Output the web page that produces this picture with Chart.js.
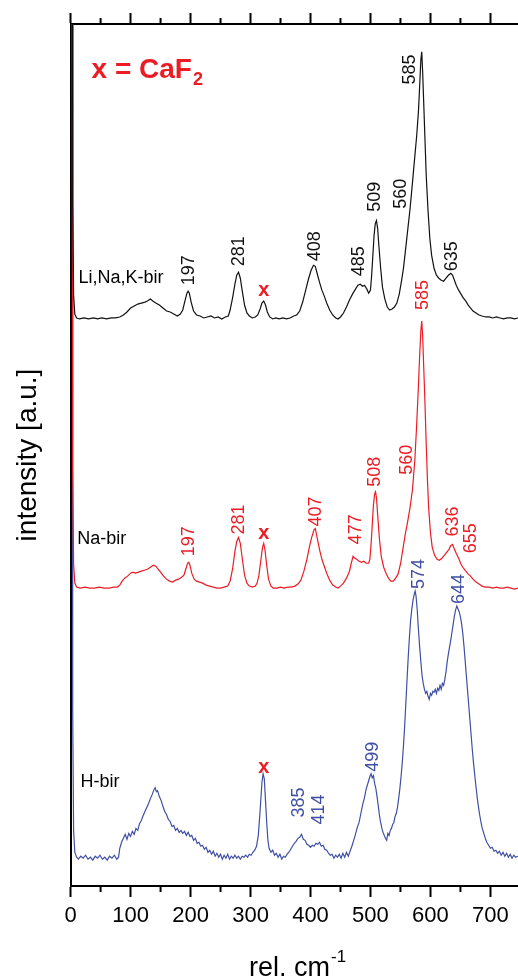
<!DOCTYPE html>
<html>
<head>
<meta charset="utf-8">
<script src="https://cdn.jsdelivr.net/npm/chart.js@4"></script>
<style>
  body { margin: 0; background: #fff; overflow: hidden; }
  canvas { display: block; }
</style>
</head>
<body>
<canvas id="myChart" width="518" height="980"></canvas>
<script>
// Raman shift, cm-1, and intensity above each trace's own baseline
var liNaKX = [2.5,3.5,5,7,10,15,22,30,38,45,52,60,68,75,82,88,94,100,106,112,118,124,128,133,137,142,148,154,160,166,172,178,183,187,191,194,196,198,201,205,210,216,222,228,234,240,246,252,258,263,266,270,274,277,280,283,286,290,294,298,303,308,312,316,319,322,325,328,332,337,342,348,354,360,366,372,377,382,387,392,397,401,405,408,411,415,419,423,427,432,437,442,446,450,455,460,465,470,475,479,483,487,490,494,497,500,502,504,506,508,510,512,514,517,520,524,528,532,536,540,544,548,552,555,558,562,566,570,574,577,580,582,584,585.5,587,589,591,593,596,599,602,606,610,614,618,622,626,630,634,637,640,643,647,651,655,659,663,667,671,676,681,686,692,698,704,710,716,722,728,734,740,746];
var liNaKY = [900,120,25,6,2,1,2,1,2,1,2,1,2,2,3,5,8,12,14,16,17,18,19,21,19,17,15,12,9,8,6,4,6,10,20,27,29,27,18,9,5,4,2,3,4,2,3,1,3,4,10,22,36,45,48,42,30,15,7,4,2,3,5,11,17,19,15,8,3,1,2,1,2,1,2,4,5,9,18,30,42,50,55,54,47,38,30,24,17,10,5,2,1,3,7,13,20,26,31,35,36,34,35,31,27,30,45,65,85,97,100,92,75,52,33,21,13,10,11,13,17,26,40,52,68,90,112,138,165,185,210,235,262,270,250,215,180,145,110,82,65,52,45,42,40,39,42,45,47,45,40,35,30,26,22,19,15,12,9,7,5,4,3,3,2,3,2,1,2,2,1,2];

var naX = [2.5,3.5,5,7,10,16,24,32,40,48,56,64,72,78,82,86,90,95,100,104,108,113,118,123,128,133,138,142,146,150,155,160,165,170,175,180,185,189,192,195,197,199,202,206,210,215,220,226,232,238,244,250,256,262,266,270,274,277,280,283,286,290,294,298,303,308,311,314,317,320,322,324,327,330,334,338,344,350,356,362,368,374,379,384,389,394,398,402,406,408,411,415,419,423,427,432,437,442,446,450,455,460,465,468,471,474,477,481,485,489,493,497,499,501,503,505,507,508.5,510,512,515,518,522,526,530,534,538,542,546,550,554,558,562,566,570,574,577,580,582,584,585.5,587,589,591,593,595,597,600,603,607,611,615,619,623,627,631,634,637,640,643,647,651,655,659,663,667,671,676,681,686,692,698,704,710,716,722,728,734,740,746];
var naY = [900,120,25,6,2,1,2,1,1,2,1,1,2,2,4,8,11,13,16,17,16,17,18,19,20,22,24,23,20,17,13,10,8,7,9,10,12,14,20,26,27,24,16,10,8,7,6,4,3,2,1,1,2,3,8,20,38,48,52,46,32,14,6,3,2,3,6,14,28,42,46,40,24,10,3,1,1,2,1,2,2,3,5,9,18,30,42,52,60,61,52,40,30,23,16,9,4,2,1,3,6,11,18,26,33,31,30,28,27,28,26,26,30,45,65,85,96,98,92,75,50,33,22,16,11,8,8,11,15,25,40,55,68,82,100,130,165,205,235,260,270,255,220,185,145,110,82,57,42,34,30,29,31,34,37,40,44,45,40,36,31,25,21,18,15,13,10,7,5,3,2,2,1,2,1,1,2,1,0,1];

var hX = [2.5,3.5,5,7,10,13,17,21,25,29,33,37,41,45,49,53,57,61,65,69,73,77,80,82,85,88,91,94,97,100,103,106,109,112,115,118,121,124,127,130,133,136,139,141,143,145,148,151,154,157,160,163,166,169,172,175,178,181,184,187,190,193,196,199,202,205,208,211,214,217,220,223,226,229,232,235,238,241,244,247,250,253,256,259,262,265,268,271,274,277,280,283,286,289,292,295,298,301,304,307,310,313,316,319,321,323,325,327,329,331,334,337,340,343,346,349,352,355,358,361,364,367,370,373,376,379,382,385,388,391,394,397,400,403,406,409,412,415,418,421,424,427,430,433,436,439,442,445,448,451,454,457,460,463,466,469,472,475,478,481,484,487,490,493,496,499,501,503,505,507,509,511,513,515,517,519,521,523,525,527,529,531,533,535,537,539,541,543,545,547,549,551,553,555,557,559,561,563,565,567,569,571,573,574.5,576,578,580,582,584,586,588,590,592,594,596,598,600,602,604,606,608,610,612,614,616,618,620,622,624,626,628,630,632,634,636,638,640,642,644,646,648,650,652,654,656,658,660,662,664,666,668,670,672,674,676,678,680,682,684,686,688,690,692,694,697,700,703,706,709,712,715,718,721,724,727,730,733,736,739,742,746];
var hY = [1100,150,30,8,3,1,4,2,5,1,3,0,4,2,5,1,3,0,4,2,5,1,3,12,18,22,26,21,27,24,29,26,32,30,37,40,45,49,53,57,62,66,71,73,69,70,64,60,54,49,46,41,39,34,35,30,32,28,30,27,29,25,28,24,25,20,22,17,18,14,15,11,13,8,10,6,9,4,7,3,6,1,5,2,6,1,4,2,5,2,4,1,4,3,5,3,6,5,8,10,14,25,50,78,87,82,60,38,20,12,8,10,5,7,3,6,1,4,3,6,8,11,14,17,19,22,23,26,21,20,16,15,13,15,14,17,16,18,14,15,11,10,7,5,6,2,5,3,6,2,7,3,8,4,9,14,20,26,33,38,47,56,63,72,78,84,87,83,85,77,72,64,55,45,38,32,28,25,22,20,27,25,30,32,36,38,44,47,53,62,72,84,98,115,135,158,182,205,225,242,253,262,268,271,266,252,232,215,200,186,178,172,168,170,165,162,168,166,170,169,172,168,173,171,176,172,178,176,182,190,200,208,215,222,230,238,246,252,256,253,250,245,238,228,215,200,185,170,155,140,125,110,97,85,74,63,54,46,39,33,29,25,21,18,15,12,13,9,10,7,9,5,8,4,7,3,6,2,5,3,4];

// vertical offsets of the three traces
var liNaKOffset = 570;
var naOffset = 299;
var hOffset = 26;

// peak labels
var liNaKPeaks = ["197","281","408","485","509","560","585","635"];
var liNaKPeakX = [198,280.5,408,480.5,508,551,566,636];
var liNaKPeakY = [605,624,629,614,679,682,807,619];

var naPeaks = ["197","281","407","477","508","560","585","636","655"];
var naPeakX = [198,280.5,409.5,476,508,560.5,587,637,668];
var naPeakY = [332,354,362,344,402,414,580,352,335];

var hPeaks = ["385","414","499","574","644"];
var hPeakX = [381.7,414,504,581,648];
var hPeakY = [69,62,115,299,284];

// CaF2 band markers
var caf2X = [322,322,322];
var caf2Y = [600,355,119];

var seriesNames = ["Li,Na,K-bir","Na-bir","H-bir"];
var seriesNameX = [13.3,11,16.7];
var seriesNameY = [612,349,105];

var black = "#111111";
var red = "#ec1c24";
var blue = "#3f4fa3";

function toPoints(xs, ys, off) {
    return xs.map(function (x, i) { return { x: x, y: ys[i] + off }; });
}

Chart.defaults.font.family = "'Liberation Sans', Arial, sans-serif";
Chart.defaults.color = "#000";

var labelsPlugin = {
    id: "labels",
    afterDraw: function (chart) {
        var ctx = chart.ctx;
        var xs = chart.scales.x;
        var ys = chart.scales.y;
        var area = chart.chartArea;

        // minor ticks at bottom and top
        ctx.save();
        ctx.strokeStyle = "#000";
        ctx.lineWidth = 2;
        for (var v = 50; v < xs.max; v += 100) {
            var px = xs.getPixelForValue(v);
            ctx.beginPath();
            ctx.moveTo(px, area.bottom);
            ctx.lineTo(px, area.bottom + 6);
            ctx.moveTo(px, area.top);
            ctx.lineTo(px, area.top - 6);
            ctx.stroke();
        }
        ctx.restore();

        function vertText(txt, x, y, color) {
            ctx.save();
            ctx.translate(xs.getPixelForValue(x), ys.getPixelForValue(y));
            ctx.rotate(-Math.PI / 2);
            ctx.fillStyle = color;
            ctx.font = "18px 'Liberation Sans', Arial, sans-serif";
            ctx.textAlign = "left";
            ctx.textBaseline = "middle";
            ctx.fillText(txt, 0, 0);
            ctx.restore();
        }
        liNaKPeaks.forEach(function (t, i) { vertText(t, liNaKPeakX[i], liNaKPeakY[i], black); });
        naPeaks.forEach(function (t, i) { vertText(t, naPeakX[i], naPeakY[i], red); });
        hPeaks.forEach(function (t, i) { vertText(t, hPeakX[i], hPeakY[i], blue); });

        ctx.save();
        ctx.fillStyle = red;
        ctx.font = "bold 20px 'Liberation Sans', Arial, sans-serif";
        ctx.textAlign = "center";
        ctx.textBaseline = "middle";
        caf2X.forEach(function (x, i) {
            ctx.fillText("x", xs.getPixelForValue(x), ys.getPixelForValue(caf2Y[i]));
        });

        ctx.fillStyle = "#000";
        ctx.font = "18px 'Liberation Sans', Arial, sans-serif";
        ctx.textAlign = "left";
        seriesNames.forEach(function (t, i) {
            ctx.fillText(t, xs.getPixelForValue(seriesNameX[i]), ys.getPixelForValue(seriesNameY[i]));
        });

        // legend text: x = CaF2
        ctx.fillStyle = red;
        ctx.font = "bold 28px 'Liberation Sans', Arial, sans-serif";
        ctx.textBaseline = "alphabetic";
        var lx = xs.getPixelForValue(35);
        var ly = ys.getPixelForValue(814);
        ctx.fillText("x = CaF", lx, ly);
        var w = ctx.measureText("x = CaF").width;
        ctx.font = "bold 18px 'Liberation Sans', Arial, sans-serif";
        ctx.fillText("2", lx + w + 1, ly + 7);

        // axis titles
        ctx.fillStyle = "#000";
        ctx.font = "27px 'Liberation Sans', Arial, sans-serif";
        var tw = ctx.measureText("rel. cm").width;
        var tx = 249;
        ctx.fillText("rel. cm", tx, 976);
        ctx.font = "17px 'Liberation Sans', Arial, sans-serif";
        ctx.fillText("-1", tx + tw + 1, 962);
        ctx.restore();
    }
};

var ctx = document.getElementById("myChart").getContext("2d");

var ramanChart = new Chart(ctx, {
    type: "line",
    data: {
        datasets: [
            { label: "Li,Na,K-bir", data: toPoints(liNaKX, liNaKY, liNaKOffset), borderColor: black },
            { label: "Na-bir", data: toPoints(naX, naY, naOffset), borderColor: red },
            { label: "H-bir", data: toPoints(hX, hY, hOffset), borderColor: blue }
        ]
    },
    options: {
        responsive: false,
        animation: false,
        layout: { padding: { left: 11, right: 0, top: 13, bottom: 44.6 } },
        elements: {
            point: { radius: 0 },
            line: { borderWidth: 1.2, tension: 0 }
        },
        plugins: {
            legend: { display: false },
            tooltip: { enabled: false }
        },
        scales: {
            x: {
                type: "linear",
                position: "bottom",
                min: 0,
                max: 746,
                grid: { drawOnChartArea: false, tickLength: 11, tickWidth: 2, tickColor: "#000" },
                border: { color: "#000", width: 2 },
                ticks: { stepSize: 100, includeBounds: false, padding: 6, font: { size: 22 }, color: "#000", maxRotation: 0 }
            },
            x2: {
                type: "linear",
                position: "top",
                min: 0,
                max: 746,
                grid: { drawOnChartArea: false, tickLength: 11, tickWidth: 2, tickColor: "#000" },
                border: { color: "#000", width: 2 },
                ticks: { stepSize: 100, includeBounds: false, display: false }
            },
            y: {
                min: 0,
                max: 868,
                grid: { display: false, drawTicks: false },
                border: { color: "#000", width: 2 },
                ticks: { display: false },
                title: {
                    display: true,
                    text: "intensity [a.u.]",
                    font: { size: 28 },
                    color: "#000",
                    padding: { top: 0, bottom: 26 }
                }
            }
        }
    },
    plugins: [labelsPlugin]
});
</script>
</body>
</html>
